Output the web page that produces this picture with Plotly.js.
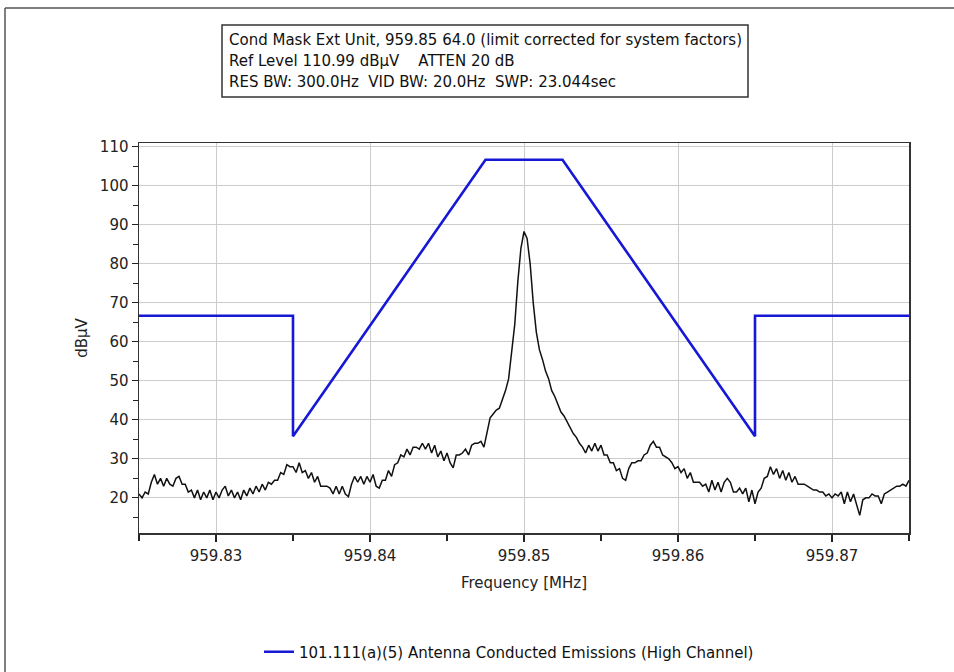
<!DOCTYPE html>
<html>
<head>
<meta charset="utf-8">
<script src="https://cdn.plot.ly/plotly-3.0.1.min.js"></script>
<style>
  html, body { margin: 0; padding: 0; background: #ffffff; }
  #chart { width: 954px; height: 672px; }
</style>
</head>
<body>
<div id="chart"></div>
<script>
// Spectrum analyzer sweep: start frequency and step (MHz)
const sweepStartMHz = 959.825;
const sweepStepMHz = 0.0002;

// Measured level per sweep point (dBµV)
const traceLevels = [
  21, 20, 21.5, 21, 24, 26, 23.5, 25, 23, 25,
  23.5, 23, 25, 25.5, 23.5, 23.5, 21.5, 22, 20, 22,
  19.5, 21.5, 20, 22, 19.5, 21.5, 20, 22, 23, 20.5,
  22, 20, 21.5, 19.5, 22, 20.5, 22.5, 21, 23, 21.5,
  23.5, 22, 24, 23.5, 24.5, 24.5, 26.5, 26, 28.5, 28,
  28, 26.5, 29, 26.5, 27, 25, 26.5, 24, 25.5, 23,
  23, 23, 22.5, 21, 23, 21, 23, 21, 20.3, 23.5,
  25.5, 24, 25.5, 23.5, 25.5, 24, 26, 23, 22.5, 24.5,
  24.5, 27, 25.5, 28.5, 29, 31, 30.5, 32.5, 31, 33,
  33, 32.5, 34, 32.5, 34, 31.5, 33.5, 30.5, 32, 29.5,
  31.5, 29, 27.7, 31, 31, 31.5, 32.5, 31, 33.5, 34,
  34, 34.5, 33, 37, 40.5, 41.5, 42.5, 43, 45, 47.5,
  50.5, 57, 64.5, 75.5, 84, 88.3, 86.5, 80, 70, 62.5,
  58, 55.5, 52.5, 50.5, 47.5, 46, 44, 42, 41, 39.5,
  38, 36.5, 35.5, 34, 33, 31.5, 33.5, 32, 34, 32,
  33.5, 31, 31, 29, 29, 27, 27.5, 25, 24.5, 27.5,
  29, 29, 29.5, 29.5, 31, 31.5, 33.5, 34.5, 33, 33,
  31, 30.5, 30, 29, 27.5, 28, 26.5, 27.5, 25, 26.5,
  24, 24, 24, 23, 23.5, 21.5, 24.5, 22, 24, 21.5,
  24, 25, 24, 21.5, 21.5, 22.5, 21, 22.5, 19, 22,
  18.5, 21.5, 22.5, 25, 25.5, 28, 26, 27.5, 25, 27,
  24.5, 26.5, 24, 25.5, 23.5, 23.5, 23.5, 23, 22.5, 22,
  22, 21.5, 21.5, 20.5, 21, 20, 21, 20.5, 21.5, 18.5,
  21.5, 19, 21, 18, 15.5, 19.5, 20, 20, 21, 20.5,
  20.5, 18.5, 21, 21.5, 22, 22.5, 23, 23, 23.5, 23,
  24.5
];

// Limit mask corner points
const maskFreqMHz = [959.825, 959.835, 959.835, 959.8475, 959.8525, 959.865, 959.865, 959.875];
const maskLevel   = [66.7, 66.7, 35.8, 106.7, 106.7, 35.8, 66.7, 66.7];
const maskName = "101.111(a)(5) Antenna Conducted Emissions (High Channel)";

// Header lines
const headerLines = [
  "Cond Mask Ext Unit, 959.85 64.0 (limit corrected for system factors)",
  "Ref Level 110.99 dBµV    ATTEN 20 dB",
  "RES BW: 300.0Hz  VID BW: 20.0Hz  SWP: 23.044sec"
];

const xTickVals = [959.83, 959.84, 959.85, 959.86, 959.87];
const xTickText = ["959.83", "959.84", "959.85", "959.86", "959.87"];
const yTickVals = [20, 30, 40, 50, 60, 70, 80, 90, 100, 110];

const FONT = "DejaVu Sans, Verdana, sans-serif";
const FS = 15;

const traces = [
  {
    type: "scatter",
    mode: "lines",
    x0: sweepStartMHz,
    dx: sweepStepMHz,
    y: traceLevels,
    line: { color: "#111111", width: 1.5 },
    showlegend: false,
    hoverinfo: "x+y"
  },
  {
    type: "scatter",
    mode: "lines",
    x: maskFreqMHz,
    y: maskLevel,
    name: maskName,
    line: { color: "#1717d6", width: 2.6 },
    showlegend: true
  }
];

// Layout geometry in paper units (plot area 770 x 390 px)
const pxX = px => (px - 139) / 770;
const pxY = py => (533 - py) / 390;

const annotations = headerLines.map((t, i) => ({
  xref: "paper", yref: "paper",
  x: pxX(227), y: pxY(40 + i * 21),
  xanchor: "left", yanchor: "middle",
  text: t, showarrow: false,
  font: { family: FONT, size: FS, color: "#111111" }
}));

const layout = {
  width: 954,
  height: 672,
  paper_bgcolor: "#ffffff",
  plot_bgcolor: "#ffffff",
  margin: { l: 139, r: 45, t: 143, b: 139, autoexpand: false },
  font: { family: FONT, size: FS, color: "#222222" },
  showlegend: true,
  legend: {
    orientation: "h",
    x: pxX(259), xanchor: "left",
    y: pxY(652), yanchor: "middle",
    font: { family: FONT, size: FS, color: "#111111" },
    bgcolor: "rgba(0,0,0,0)"
  },
  xaxis: {
    range: [959.825, 959.875],
    tickvals: xTickVals,
    ticktext: xTickText,
    ticks: "outside",
    ticklen: 7,
    tickwidth: 1.2,
    tickcolor: "#222222",
    ticklabelstandoff: 1,
    showgrid: true,
    gridcolor: "#cccccc",
    gridwidth: 1,
    showline: true,
    linecolor: "#333333",
    linewidth: 1.5,
    mirror: true,
    zeroline: false,
    automargin: false,
    minor: { dtick: 0.005, tick0: 959.825, ticks: "outside", ticklen: 6, tickcolor: "#222222", showgrid: false },
    title: { text: "Frequency [MHz]", standoff: 14, font: { family: FONT, size: FS, color: "#222222" } },
    tickfont: { family: FONT, size: FS, color: "#222222" }
  },
  yaxis: {
    range: [10.99, 110.99],
    tickvals: yTickVals,
    ticks: "outside",
    ticklen: 6,
    tickwidth: 1.2,
    tickcolor: "#222222",
    showgrid: true,
    gridcolor: "#cccccc",
    gridwidth: 1,
    showline: true,
    linecolor: "#333333",
    linewidth: 1.5,
    mirror: true,
    zeroline: false,
    automargin: false,
    minor: { dtick: 5, tick0: 0, ticks: "outside", ticklen: 5, tickcolor: "#222222", showgrid: false },
    title: { text: "dBµV", standoff: 8, font: { family: FONT, size: FS, color: "#222222" } },
    tickfont: { family: FONT, size: FS, color: "#222222" }
  },
  shapes: [
    // outer frame: top and left edges
    { type: "line", xref: "paper", yref: "paper",
      x0: pxX(5), x1: pxX(954), y0: pxY(8), y1: pxY(8),
      line: { color: "#555555", width: 1.5 }, layer: "below" },
    { type: "line", xref: "paper", yref: "paper",
      x0: pxX(5), x1: pxX(5), y0: pxY(8), y1: pxY(672),
      line: { color: "#555555", width: 1.5 }, layer: "below" },
    // header box
    { type: "rect", xref: "paper", yref: "paper",
      x0: pxX(222), x1: pxX(748), y0: pxY(97), y1: pxY(25),
      line: { color: "#333333", width: 1.5 }, fillcolor: "#ffffff", layer: "below" }
  ],
  annotations: annotations
};

Plotly.newPlot("chart", traces, layout, { displayModeBar: false, staticPlot: true });
</script>
</body>
</html>
